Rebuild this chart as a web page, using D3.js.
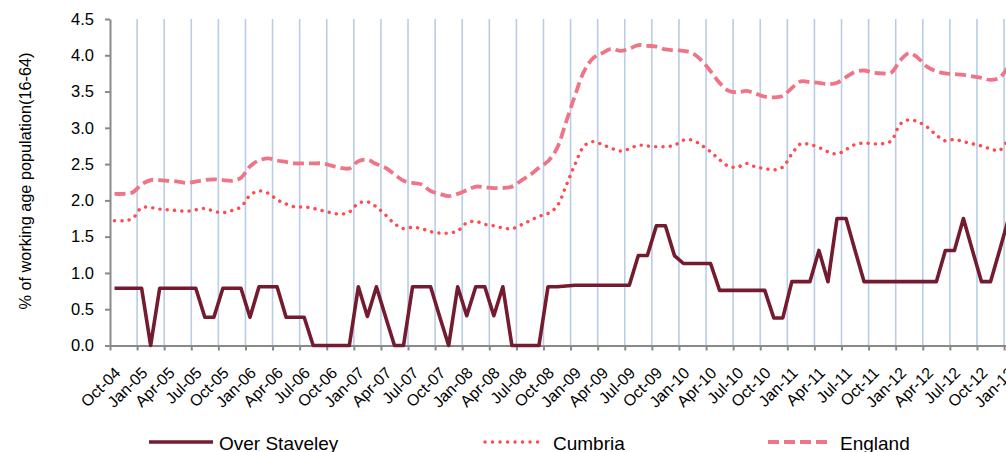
<!DOCTYPE html>
<html>
<head>
<meta charset="utf-8">
<script src="https://cdn.jsdelivr.net/npm/d3@7"></script>
<style>
  html, body { margin: 0; padding: 0; background: #fff; }
  svg { display: block; font-family: "Liberation Sans", Arial, sans-serif; }
</style>
</head>
<body>
<svg id="chart" width="1006" height="452"></svg>
<script>
// ---- Data ----
const months = d3.timeMonths(new Date(2004, 9, 1), new Date(2013, 1, 1)); // Oct-04 .. Jan-13
const categories = months.map(d3.timeFormat("%b-%y"));

const overStaveley = [
  0.79,0.79,0.79,0.79,0,0.79,0.79,0.79,0.79,0.79,
  0.39,0.39,0.79,0.79,0.79,0.39,0.81,0.81,0.81,0.39,
  0.39,0.39,0,0,0,0,0,0.81,0.40,0.81,
  0.40,0,0,0.81,0.81,0.81,0.40,0,0.81,0.41,
  0.81,0.81,0.41,0.81,0,0,0,0,0.81,0.81,
  0.82,0.83,0.83,0.83,0.83,0.83,0.83,0.83,1.24,1.24,
  1.65,1.65,1.24,1.13,1.13,1.13,1.13,0.76,0.76,0.76,
  0.76,0.76,0.76,0.38,0.38,0.88,0.88,0.88,1.31,0.88,
  1.75,1.75,1.31,0.88,0.88,0.88,0.88,0.88,0.88,0.88,
  0.88,0.88,1.31,1.31,1.75,1.31,0.88,0.88,1.31,1.75
];

const cumbria = [
  1.72,1.72,1.75,1.90,1.90,1.88,1.87,1.86,1.85,1.87,
  1.89,1.85,1.83,1.86,1.91,2.07,2.13,2.10,2.01,1.95,
  1.91,1.91,1.89,1.86,1.83,1.81,1.84,1.96,1.98,1.91,
  1.80,1.68,1.61,1.63,1.61,1.57,1.55,1.55,1.58,1.69,
  1.71,1.67,1.65,1.62,1.61,1.66,1.72,1.78,1.82,1.92,
  2.20,2.50,2.75,2.81,2.77,2.72,2.68,2.71,2.76,2.75,
  2.74,2.74,2.76,2.83,2.83,2.76,2.67,2.56,2.47,2.46,
  2.51,2.46,2.44,2.42,2.46,2.64,2.78,2.77,2.73,2.67,
  2.64,2.70,2.77,2.79,2.78,2.78,2.82,3.05,3.11,3.08,
  3.01,2.90,2.82,2.84,2.81,2.78,2.75,2.71,2.69,2.85
];

const england = [
  2.09,2.09,2.11,2.22,2.28,2.28,2.27,2.26,2.24,2.26,
  2.28,2.29,2.28,2.27,2.31,2.47,2.55,2.58,2.55,2.53,
  2.51,2.51,2.51,2.51,2.48,2.45,2.44,2.54,2.56,2.50,
  2.45,2.36,2.27,2.24,2.22,2.13,2.09,2.06,2.09,2.14,
  2.19,2.18,2.17,2.17,2.19,2.27,2.35,2.45,2.54,2.72,
  3.08,3.45,3.78,3.96,4.03,4.09,4.06,4.09,4.14,4.13,
  4.12,4.08,4.07,4.06,4.03,3.93,3.78,3.62,3.51,3.49,
  3.51,3.47,3.43,3.42,3.44,3.55,3.64,3.63,3.62,3.60,
  3.62,3.70,3.77,3.79,3.76,3.75,3.76,3.93,4.03,3.96,
  3.84,3.78,3.75,3.74,3.73,3.71,3.69,3.66,3.69,3.85
];

const yTicks = [0, 0.5, 1.0, 1.5, 2.0, 2.5, 3.0, 3.5, 4.0, 4.5];
const seriesNames = ["Over Staveley", "Cumbria", "England"];

// ---- Layout ----
const svg = d3.select("#chart");
const plotLeft = 110, plotTop = 19, plotBottom = 345.5;
const monthW = 9.031;
const N = categories.length;

const xi = d3.scaleLinear().domain([0, N]).range([plotLeft, plotLeft + monthW * N]);
const y = d3.scaleLinear().domain([0, 4.5]).range([plotBottom, plotTop]);
const cx = i => xi(i + 0.5);

const quarterIdx = d3.range(0, N, 3);

// gridlines
svg.append("g").selectAll("line")
  .data(quarterIdx.filter(i => i > 0))
  .join("line")
  .attr("x1", i => xi(i)).attr("x2", i => xi(i))
  .attr("y1", y(4.5)).attr("y2", y(0))
  .attr("stroke", "#B9CDE5").attr("stroke-width", 1.6);

// y axis
const yAxis = svg.append("g")
  .attr("transform", `translate(${plotLeft},0)`)
  .call(d3.axisLeft(y).tickValues(yTicks).tickFormat(d3.format(".1f")).tickSize(5).tickSizeOuter(0).tickPadding(11));
yAxis.select(".domain").attr("stroke", "#898989").attr("stroke-width", 2);
yAxis.selectAll(".tick line").attr("stroke", "#898989").attr("stroke-width", 2);
yAxis.selectAll(".tick text").attr("font-size", 16.5).attr("fill", "#000")
  .attr("font-family", "'Liberation Sans', Arial, sans-serif");

// x axis
const xAxis = svg.append("g")
  .attr("transform", `translate(0,${plotBottom})`)
  .call(d3.axisBottom(xi).tickValues(quarterIdx).tickFormat("").tickSize(5).tickSizeOuter(0));
xAxis.select(".domain").attr("stroke", "#898989").attr("stroke-width", 2);
xAxis.selectAll(".tick line").attr("stroke", "#898989").attr("stroke-width", 2);

// x labels
svg.append("g").selectAll("text")
  .data(quarterIdx)
  .join("text")
  .attr("transform", i => `translate(${cx(i) + 7},${374}) rotate(-45)`)
  .attr("text-anchor", "end")
  .attr("font-size", 16)
  .attr("fill", "#000")
  .text(i => categories[i]);

// y title
svg.append("text")
  .attr("transform", `translate(25,${181}) rotate(-90)`)
  .attr("text-anchor", "middle")
  .attr("dominant-baseline", "central")
  .attr("font-size", 16.3)
  .attr("fill", "#000")
  .text("% of working age population(16-64)");

// lines
const smooth = d3.line().x((d, i) => cx(i)).y(d => y(d)).curve(d3.curveCatmullRom.alpha(0.5));
const straight = d3.line().x((d, i) => cx(i)).y(d => y(d));

svg.append("path").datum(england)
  .attr("d", smooth).attr("fill", "none")
  .attr("stroke", "#F07487").attr("stroke-width", 3.8)
  .attr("stroke-dasharray", "11,5");

svg.append("path").datum(cumbria)
  .attr("d", smooth).attr("fill", "none")
  .attr("stroke", "#FF4A4F").attr("stroke-width", 3.4)
  .attr("stroke-linecap", "round")
  .attr("stroke-dasharray", "0.1,7.2");

svg.append("path").datum(overStaveley)
  .attr("d", straight).attr("fill", "none")
  .attr("stroke", "#741B30").attr("stroke-width", 3.6)
  .attr("stroke-linejoin", "round");

// legend
const legend = [
  { name: seriesNames[0], x1: 149, x2: 213, tx: 219, color: "#741B30", dash: null, w: 3.6, cap: "butt" },
  { name: seriesNames[1], x1: 485, x2: 538, tx: 553, color: "#FF4A4F", dash: "0.1,7.4", w: 3.4, cap: "round" },
  { name: seriesNames[2], x1: 768, x2: 832, tx: 840, color: "#F07487", dash: "11,5", w: 3.8, cap: "butt" }
];
const lg = svg.append("g").selectAll("g").data(legend).join("g");
lg.append("line")
  .attr("x1", d => d.x1).attr("x2", d => d.x2)
  .attr("y1", 442).attr("y2", 442)
  .attr("stroke", d => d.color).attr("stroke-width", d => d.w)
  .attr("stroke-linecap", d => d.cap)
  .attr("stroke-dasharray", d => d.dash);
lg.append("text")
  .attr("x", d => d.tx).attr("y", 450)
  .attr("font-size", 19).attr("fill", "#000")
  .text(d => d.name);
</script>
</body>
</html>
